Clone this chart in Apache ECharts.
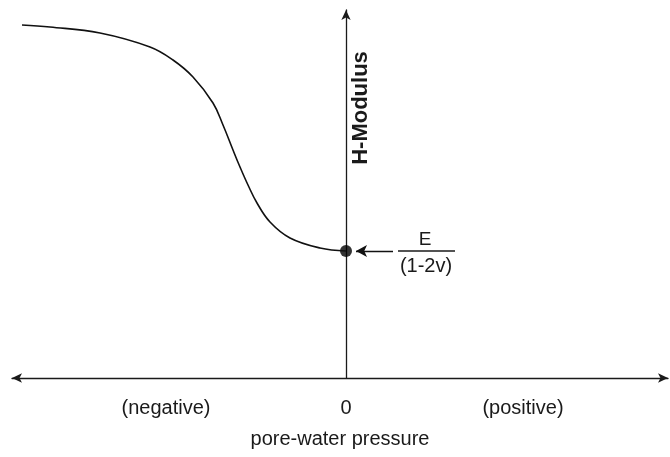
<!DOCTYPE html>
<html><head><meta charset="utf-8">
<script src="https://cdn.jsdelivr.net/npm/echarts@6/dist/echarts.min.js"></script>
<style>html,body{margin:0;padding:0;background:#fff}#c{width:670px;height:457px}</style>
</head><body><div id="c"></div>
<script>
// pore-water pressure (arbitrary units, 0 at origin) vs H-Modulus (arbitrary units)
const pressure = [-324, -296, -246, -196, -173, -153, -133, -123, -113, -106, -98, -89, -76, -56, -26, 0];
const hModulus = [353, 351, 345, 331, 318, 301, 275, 253, 228, 211, 193, 175, 156, 140, 130, 127];
const tickValues = [-180, 0, 177];
const tickLabels = {"-180": "(negative)", "0": "0", "177": "(positive)"};
const pointE = [0, 127];

const font = "'Liberation Sans', Arial, sans-serif";
const ink = '#1a1a1a';
const chart = echarts.init(document.getElementById('c'));
chart.setOption({
  animation: false,
  grid: {left: 12, right: 2, top: 10, bottom: 79},
  xAxis: {
    type: 'value', min: -334, max: 322,
    name: 'pore-water pressure', nameLocation: 'middle', nameGap: 51,
    nameTextStyle: {color: ink, fontSize: 20, fontFamily: font},
    axisLine: {show: true, onZero: false, symbol: ['arrow', 'arrow'], symbolSize: [7, 10],
      lineStyle: {color: ink, width: 1.3}},
    axisTick: {show: false},
    splitLine: {show: false},
    axisLabel: {customValues: tickValues, formatter: v => tickLabels[String(v)], margin: 20,
      color: ink, fontSize: 20, fontFamily: font}
  },
  yAxis: {
    type: 'value', min: 0, max: 368,
    axisLine: {show: true, onZero: true, symbol: ['none', 'arrow'], symbolSize: [7, 10],
      lineStyle: {color: ink, width: 1.3}},
    axisTick: {show: false}, axisLabel: {show: false}, splitLine: {show: false}
  },
  series: [{
    type: 'line', smooth: 0.4, showSymbol: false,
    data: pressure.map((x, i) => [x, hModulus[i]]),
    lineStyle: {color: '#111', width: 1.6},
    markLine: {
      silent: true, symbol: ['none', 'arrow'], symbolSize: [9, 11],
      lineStyle: {color: '#111', width: 1.3, type: 'solid'}, label: {show: false},
      data: [[{coord: [pointE[0] + 47, pointE[1]]}, {coord: [pointE[0] + 10, pointE[1]]}]]
    }
  }, {
    type: 'scatter', data: [pointE], symbolSize: 12,
    itemStyle: {color: '#000'}
  }],
  graphic: [
    {type: 'text', x: 361, y: 108, rotation: Math.PI / 2,
      style: {text: 'H-Modulus', fill: ink, font: 'bold 22px ' + font, align: 'center', verticalAlign: 'middle'}},
    {type: 'text', x: 425, y: 240,
      style: {text: 'E', fill: ink, font: '19px ' + font, align: 'center', verticalAlign: 'middle'}},
    {type: 'line', shape: {x1: 398, y1: 251, x2: 455, y2: 251}, style: {stroke: ink, lineWidth: 1.3}},
    {type: 'text', x: 426, y: 266,
      style: {text: '(1-2v)', fill: ink, font: '20px ' + font, align: 'center', verticalAlign: 'middle'}}
  ]
});
</script></body></html>
